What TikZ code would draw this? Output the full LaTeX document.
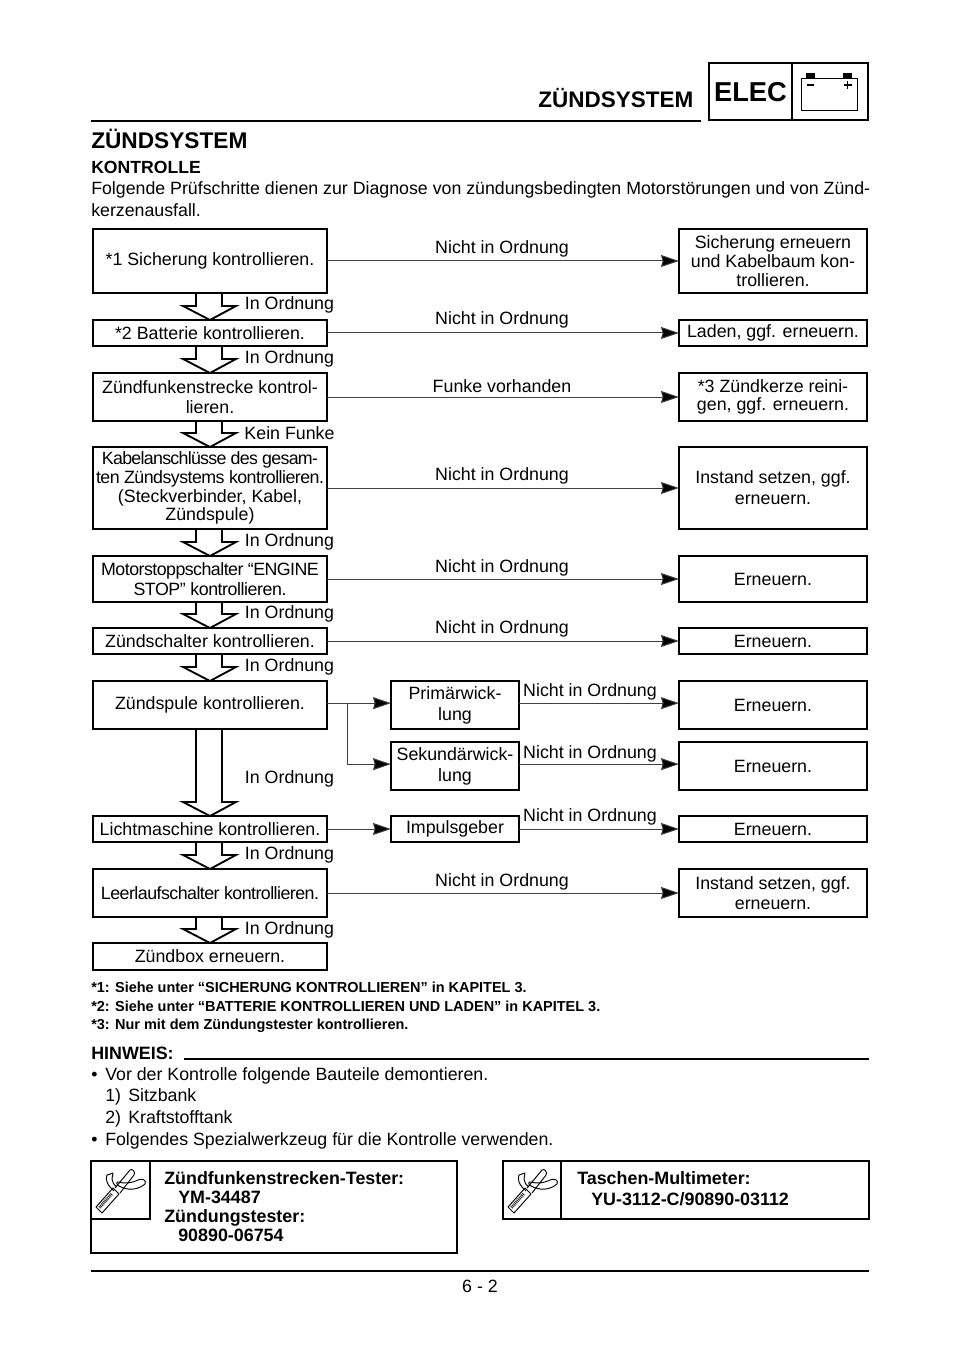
\documentclass[tikz,border=0pt]{standalone}
\usepackage{fontspec}
\setmainfont{Liberation Sans}
\usetikzlibrary{arrows.meta,calc}
\tikzset{
  x=0.75pt,y=-0.75pt,
  fbox/.style={draw,line width=1.5pt,inner sep=0pt,outer sep=0pt,align=center,font=\fontsize{13.35}{15}\selectfont,anchor=north west},
  lbl/.style={inner sep=0pt,font=\fontsize{13.35}{16}\selectfont},
  link/.style={draw=black!75,line width=0.75pt,-{Stealth[length=13.5pt,width=9pt,inset=1.2pt,fill=black]}},
  hollow/.style={draw,line width=1.4pt,line join=miter},
  body/.style={inner sep=0pt,anchor=base west,font=\fontsize{13.32}{16}\selectfont},
  sbold/.style={inner sep=0pt,anchor=base west,font=\bfseries\fontsize{10.85}{12}\selectfont},
  tool/.style={inner sep=0pt,anchor=base west,font=\bfseries\fontsize{13.4}{16}\selectfont},
  frame/.style={draw,line width=1.5pt},
  rulel/.style={line width=2pt},
}
% box: name, x, y, w, h, text
\newcommand{\fb}[6]{\node[fbox,minimum width=#4*0.75pt,minimum height=#5*0.75pt] (#1) at (#2,#3) {#6};}
\newcommand{\hol}[2]{\draw[hollow]
  ($(#1.south)+(-14,0)$) -- ($(#2.north)+(-14,-14)$) -- ($(#2.north)+(-27,-14)$) -- (#2.north)
  -- ($(#2.north)+(26,-14)$) -- ($(#2.north)+(12,-14)$) -- ($(#1.south)+(12,0)$);}
\newcommand{\wrench}[2]{\begin{scope}[shift={(#1,#2)}]
  \draw[line width=0.7pt,line join=round] (5,46) -- (11,52) -- (28,33) -- (22,27) -- cycle;
  \draw[line width=2.4pt,black!80,dash pattern=on 0.7pt off 0.6pt] (8.5,46.5) -- (21,32.5);
  \draw[line width=0.7pt] (24,27) -- (39,9) .. controls (41,7) and (45,11) .. (43,14) -- (29,32);
  \draw[line width=0.7pt,line join=round] (23,30) .. controls (16,24) and (14,18) .. (16,14) -- (22,12) -- (21,18) .. controls (21,21) and (23,24) .. (26,26);
  \draw[line width=0.7pt] (28,21) .. controls (34,23) and (41,22) .. (47,19) .. controls (51,17) and (56,19) .. (54,23) .. controls (47,29) and (37,30) .. (28,25) .. controls (25,24) and (25,20) .. (28,21);
\end{scope}}
\begin{document}
\begin{tikzpicture}
\useasboundingbox (0,0) rectangle (960,1358);
\fill[white] (0,0) rectangle (960,1358);
% header
\draw[rulel] (91,121) -- (701,121);
\node[inner sep=0pt,font=\bfseries\fontsize{16.85}{18}\selectfont,anchor=base east] (hd) at (693.5,108) {ZÜNDSYSTEM};
\draw[frame] (709,63) rectangle (868,120);
\draw[frame] (792,63) -- (792,120);
\node[inner sep=0pt,font=\bfseries\fontsize{20.5}{22}\selectfont,anchor=base] (el) at (750.5,102) {ELEC};
\draw[line width=0.6pt] (801.5,78) rectangle (857,110);
\fill (806,73.5) rectangle (815,78);
\fill (843,73.5) rectangle (852,78);
\draw[line width=0.8pt] (807,85) -- (814,85);
\draw[line width=1pt] (843.5,85) -- (851.5,85) (847.5,81) -- (847.5,89);
\node[inner sep=0pt,anchor=base west,font=\bfseries\fontsize{17}{18}\selectfont] (h1) at (91,149) {ZÜNDSYSTEM};
\node[inner sep=0pt,anchor=base west,font=\bfseries\fontsize{13.2}{14}\selectfont] (h2) at (91,174) {KONTROLLE};
\node[body] (p1) at (91,195) {Folgende Prüfschritte dienen zur Diagnose von zündungsbedingten Motorstörungen und von Zünd-};
\node[body] (p2) at (91,217) {kerzenausfall.};
% left column
\fb{b1}{93}{229}{234}{64}{*1 Sicherung kontrollieren.}
\fb{b2}{93}{320}{234}{26}{*2 Batterie kontrollieren.}
\fb{b3}{93}{373}{234}{48}{Zündfunkenstrecke kontrol-\\lieren.}
\fb{b4}{93}{447}{234}{82}{\addfontfeature{LetterSpace=-4}Kabelanschlüsse des gesam-\\[-0.9pt]\addfontfeature{LetterSpace=-3}ten Zündsystems kontrollieren.\\[-0.9pt](Steckverbinder, Kabel,\\[-0.9pt]Zündspule)}
\fb{b5}{93}{556}{234}{46}{\addfontfeature{LetterSpace=-3}Motorstoppschalter “ENGINE\\[-0.5pt]\addfontfeature{LetterSpace=-2.5}STOP” kontrollieren.}
\fb{b6}{93}{628}{234}{26}{Zündschalter kontrollieren.}
\fb{b7}{93}{681}{234}{48}{Zündspule kontrollieren.}
\fb{b8}{93}{816}{234}{26}{Lichtmaschine kontrollieren.}
\fb{b9}{93}{869}{234}{48}{\addfontfeature{LetterSpace=-3}Leerlaufschalter kontrollieren.}
\fb{b10}{93}{943}{234}{27}{Zündbox erneuern.}
% right column
\fb{r1}{679}{229}{188}{64}{Sicherung erneuern\\[-0.75pt]und Kabelbaum kon-\\[-0.75pt]trollieren.}
\fb{r2}{679}{320}{188}{26}{Laden, ggf. erneuern.}
\fb{r3}{679}{373}{188}{48}{*3 Zündkerze reini-\\[-1.5pt]gen, ggf. erneuern.}
\fb{r4}{679}{447}{188}{82}{Instand setzen, ggf.\\[0.7pt]erneuern.}
\fb{r5}{679}{556}{188}{46}{Erneuern.}
\fb{r6}{679}{628}{188}{26}{Erneuern.}
\fb{r7}{679}{681}{188}{48}{Erneuern.}
\fb{r7b}{679}{742}{188}{48}{Erneuern.}
\fb{r8}{679}{816}{188}{26}{Erneuern.}
\fb{r9}{679}{869}{188}{48}{Instand setzen, ggf.\\erneuern.}
% middle
\fb{m1}{391}{681}{128}{48}{Primärwick-\\[0.7pt]lung}
\fb{m2}{391}{742}{128}{48}{Sekundärwick-\\[0.7pt]lung}
\fb{m3}{391}{816}{128}{26}{Impulsgeber}
% links
\foreach \a/\b in {b1/r1,b2/r2,b3/r3,b4/r4,b5/r5,b6/r6,b8/m3,b9/r9,m3/r8}
  {\draw[link] (\a.east) -- (\a.east -| \b.west);}
\draw[link] ([yshift=1.4pt]b7.east) -- ([yshift=1.4pt]m1.west);
\draw[link] ([yshift=1.4pt]m1.east) -- ([yshift=1.4pt]r7.west);
\draw[link] ([yshift=1.4pt]m2.east) -- ([yshift=1.4pt]r7b.west);
\coordinate (jn) at ($(b7.east)+(20,-2)$);
\draw[link] (jn) |- ([yshift=1.4pt]m2.west);
% hollow arrows
\hol{b1}{b2}\hol{b2}{b3}\hol{b3}{b4}\hol{b4}{b5}\hol{b5}{b6}\hol{b6}{b7}\hol{b7}{b8}\hol{b8}{b9}\hol{b9}{b10}
% labels
\foreach \n/\x/\y/\t in {
 l1/502/249/Nicht in Ordnung, l2/502/320/Nicht in Ordnung, l3/502/386/Funke vorhanden,
 l4/502/476/Nicht in Ordnung, l5/502/568/Nicht in Ordnung, l6/502/629/Nicht in Ordnung,
 l7/590/692/Nicht in Ordnung, l8/590/754/Nicht in Ordnung, l9/590/817/Nicht in Ordnung,
 l10/502/882/Nicht in Ordnung,
 k1/289.5/305/In Ordnung, k2/289.5/359/In Ordnung, k3/289.5/433/Kein Funke,
 k4/289.5/542/In Ordnung, k5/289.5/614/In Ordnung, k6/289.5/667/In Ordnung,
 k7/289.5/779/In Ordnung, k8/289.5/855/In Ordnung, k9/289.5/930/In Ordnung}
 {\node[lbl] (\n) at (\x,\y) {\t};}
% footnotes
\node[sbold] (f1) at (91,992) {*1: Siehe unter “SICHERUNG KONTROLLIEREN” in KAPITEL 3.};
\node[sbold] (f2) at (91,1011) {*2: Siehe unter “BATTERIE KONTROLLIEREN UND LADEN” in KAPITEL 3.};
\node[sbold] (f3) at (91,1029) {*3: Nur mit dem Zündungstester kontrollieren.};
% note
\node[inner sep=0pt,anchor=base west,font=\bfseries\fontsize{13.4}{14}\selectfont] (hw) at (91,1059) {HINWEIS:};
\draw[rulel] (184,1059) -- (869,1059);
\node[body] (n1a) at (91,1080) {•};
\node[body] (n1) at (105,1080) {Vor der Kontrolle folgende Bauteile demontieren.};
\node[body] (n2a) at (105,1101) {1)};
\node[body] (n2) at (128,1101) {Sitzbank};
\node[body] (n3a) at (105,1123) {2)};
\node[body] (n3) at (128,1123) {Kraftstofftank};
\node[body] (n4a) at (91,1145) {•};
\node[body] (n4) at (105,1145) {Folgendes Spezialwerkzeug für die Kontrolle verwenden.};
% tool boxes
\draw[frame] (91,1161) rectangle (457,1253);
\draw[frame] (91,1219) -- (150,1219) -- (150,1161);
\wrench{91}{1161}
\node[tool] (t1) at (164,1184) {Zündfunkenstrecken-Tester:};
\node[tool] (t2) at (178,1203) {YM-34487};
\node[tool] (t3) at (164,1222) {Zündungstester:};
\node[tool] (t4) at (178,1241) {90890-06754};
\draw[frame] (503,1161) rectangle (869,1219);
\draw[frame] (561,1161) -- (561,1219);
\wrench{503}{1161}
\node[tool] (t5) at (577,1184) {Taschen-Multimeter:};
\node[tool] (t6) at (591,1205) {YU-3112-C/90890-03112};
% bottom
\draw[rulel] (91,1271) -- (869,1271);
\node[inner sep=0pt,font=\fontsize{13.35}{16}\selectfont] (pg) at (480,1286) {6 - 2};
\end{tikzpicture}
\end{document}
